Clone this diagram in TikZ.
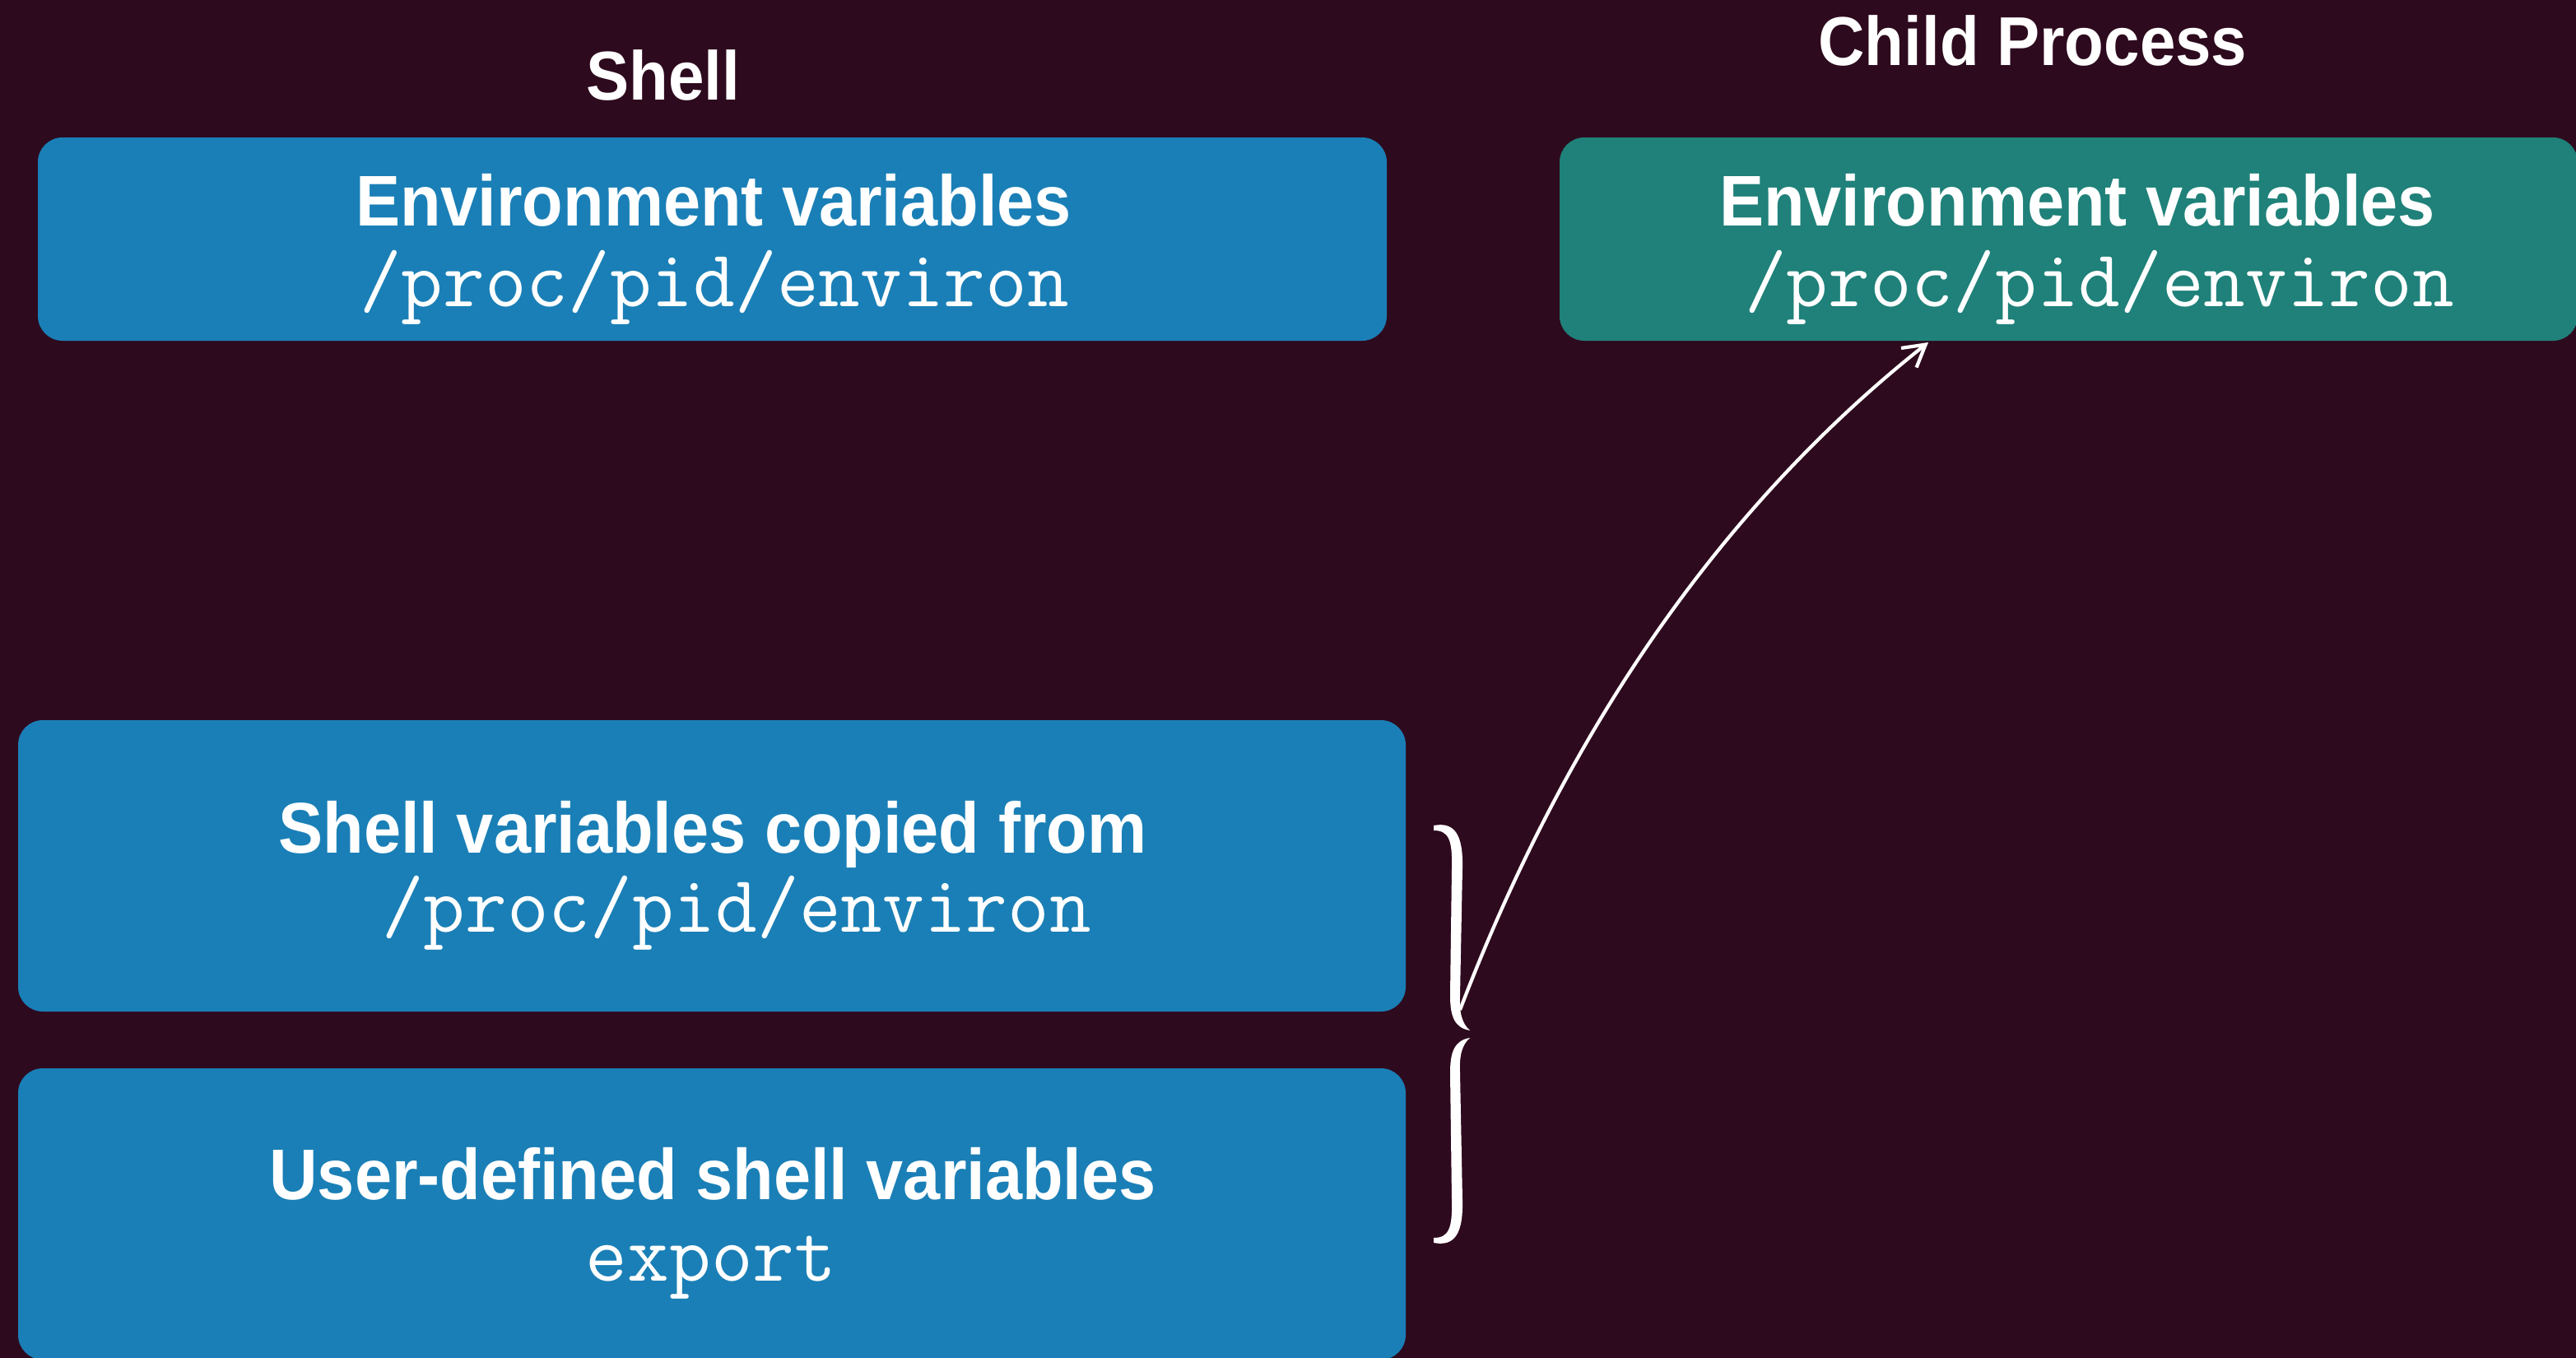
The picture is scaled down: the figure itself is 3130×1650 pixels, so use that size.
\documentclass[tikz,border=0pt]{standalone}
\usepackage{fontspec}
\usetikzlibrary{arrows.meta}
\newfontfamily\headfont{Liberation Sans}[FakeStretch=0.93]
\definecolor{bgmaroon}{HTML}{2E0A1E}
\definecolor{shellblue}{HTML}{1A7FB6}
\definecolor{childteal}{HTML}{1F8179}
\begin{document}
\begin{tikzpicture}[x=0.25pt,y=-0.25pt,
  panel/.style={rounded corners=7.5pt, inner sep=0pt, draw=none},
  heading/.style={text=white, font=\headfont\bfseries\fontsize{21pt}{24pt}\selectfont, anchor=base, inner sep=0pt},
  boxtext/.style={text=white, font=\headfont\bfseries\fontsize{21.8pt}{26pt}\selectfont, anchor=base, inner sep=0pt},
  codetext/.style={text=white, font=\ttfamily\fontsize{24.6pt}{28pt}\selectfont, anchor=base, inner sep=0pt},
  link/.style={draw=white, line width=1.05pt, -{Straight Barb[length=6.5pt,width=7.5pt]}}]
\useasboundingbox (0,0) rectangle (3130,1650);
\clip (0,0) rectangle (3130,1650);
\fill[bgmaroon] (0,0) rectangle (3130,1650);

% column headings
\node[heading] (shellhead) at (806,121) {Shell};
\node[heading] (childhead) at (2470,79) {Child Process};

% shell side
\node[panel, fill=shellblue, minimum width=409.75pt, minimum height=61.75pt] (envbox) at (865.5,290.5) {};
\node[boxtext] (envtitle) at (867,274) {Environment variables};
\node[codetext] (envpath) at (868,372) {/proc/pid/environ};

\node[panel, fill=shellblue, minimum width=421.5pt, minimum height=88.5pt] (copybox) at (865,1052) {};
\node[boxtext] (copytitle) at (866,1036) {Shell variables copied from};
\node[codetext] (copypath) at (895,1132) {/proc/pid/environ};

\node[panel, fill=shellblue, minimum width=421.5pt, minimum height=88.5pt] (userbox) at (865,1475) {};
\node[boxtext] (usertitle) at (866,1457) {User-defined shell variables};
\node[codetext] (usercmd) at (864,1556) {export};

% child side
\node[panel, fill=childteal, minimum width=309.25pt, minimum height=61.75pt] (childbox) at (2513.5,290.5) {};
\node[boxtext] (childtitle) at (2524,274) {Environment variables};
\node[codetext] (childpath) at (2551,372) {/proc/pid/environ};

% brace grouping the two lower boxes
\fill[white] (1742,1003) .. controls (1768,998) and (1778,1015) .. (1777,1055)
  -- (1774,1210) .. controls (1773,1232) and (1777,1244) .. (1786,1252)
  .. controls (1768,1249) and (1762,1236) .. (1762,1210)
  -- (1764,1055) .. controls (1765,1020) and (1760,1009) .. (1742,1009) -- cycle;
\fill[white] (1742,1510) .. controls (1768,1515) and (1778,1498) .. (1777,1458)
  -- (1774,1303) .. controls (1773,1281) and (1777,1269) .. (1786,1261)
  .. controls (1768,1264) and (1762,1277) .. (1762,1303)
  -- (1764,1458) .. controls (1765,1493) and (1760,1504) .. (1742,1504) -- cycle;

% inheritance arrow
\coordinate (bracetip) at (1774,1227);
\coordinate (childin) at (2343,416);
\draw[link] (bracetip) .. controls (1905,884) and (2094,613) .. (childin);
\end{tikzpicture}
\end{document}
